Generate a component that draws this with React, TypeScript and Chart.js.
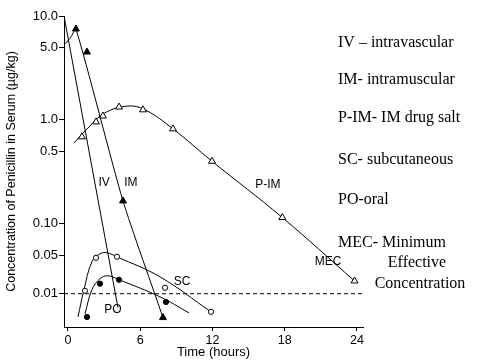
import React, { useEffect, useRef } from 'react';
import { Chart, Scale, registerables } from 'chart.js';

// ---------- data ----------
const TIME_TICKS = [0, 6, 12, 18, 24];
const CONC_TICKS = [10, 5, 1, 0.5, 0.1, 0.05, 0.01];
const CONC_TICK_LABELS = ['10.0', '5.0', '1.0', '0.5', '0.10', '0.05', '0.01'];

// fitted curves
const IV_T = [-0.33, 4.15];
const IV_C = [10, 0.0056];
const IM_T = [-0.33, 0.25, 0.66, 4.57, 7.89];
const IM_C = [5.26, 6.28, 7.5, 0.166, 0.0037];
const PIM_T = [0.5, 1.83, 3.07, 4.98, 6.4, 8.72, 11.96, 17.8, 23.8];
const PIM_C = [0.6, 0.875, 1.17, 1.36, 1.25, 0.82, 0.4, 0.115, 0.017];
const SC_T = [0.83, 1.33, 1.99, 2.66, 3.24, 4.07, 7.64, 11.88];
const SC_C = [0.0038, 0.0118, 0.0379, 0.0515, 0.0526, 0.0465, 0.0202, 0.0047];
const PO_T = [1.41, 1.99, 2.66, 3.32, 4.24, 7.64, 10.05];
const PO_C = [0.0043, 0.0118, 0.0187, 0.0211, 0.0179, 0.0088, 0.0045];
const MEC_T = [-0.33, 24.5];
const MEC_C = [0.01, 0.01];

// measured points
const IM_PT_T = [0.66, 1.58, 4.57, 7.89];
const IM_PT_C = [7.5, 4.5, 0.166, 0.0037];
const PIM_PT_T = [1.16, 2.33, 2.9, 4.24, 6.23, 8.72, 11.96, 17.8, 23.8];
const PIM_PT_C = [0.687, 0.957, 1.09, 1.33, 1.25, 0.82, 0.4, 0.115, 0.017];
const SC_PT_T = [1.41, 2.33, 4.07, 8.06, 11.88];
const SC_PT_C = [0.0113, 0.0447, 0.0466, 0.0128, 0.0047];
const PO_PT_T = [1.58, 2.66, 4.24, 8.14];
const PO_PT_C = [0.0038, 0.0152, 0.0179, 0.0071];

// in-plot labels
const CURVE_LABELS = ['IV', 'IM', 'P-IM', 'SC', 'PO', 'MEC'];
const CURVE_LABEL_T = [3.0, 5.23, 16.6, 9.47, 3.74, 21.6];
const CURVE_LABEL_C = [0.248, 0.248, 0.24, 0.0165, 0.0051, 0.038];

const LEGEND_LINES = [
  'IV – intravascular',
  'IM- intramuscular',
  'P-IM- IM drug salt',
  'SC- subcutaneous',
  'PO-oral',
  'MEC- Minimum',
  'Effective',
  'Concentration',
];

// ---------- broken log scale (compressed below 0.05) ----------
const BREAK = 0.05;
const K = 0.532;
const LB = Math.log10(BREAK);
function tf(v: number) {
  const l = Math.log10(v);
  return l >= LB ? l : LB + K * (l - LB);
}
function tfInv(t: number) {
  return t >= LB ? Math.pow(10, t) : Math.pow(10, LB + (t - LB) / K);
}

class BrokenLogScale extends Scale {
  static id = 'brokenLog';
  static defaults = {};
  parse(raw: any) {
    return raw == null ? null : +raw;
  }
  determineDataLimits() {
    const { min, max } = (this as any).getMinMax(true);
    const o: any = this.options;
    (this as any).min = o.min ?? min;
    (this as any).max = o.max ?? max;
  }
  buildTicks() {
    return CONC_TICKS.map((v) => ({ value: v }));
  }
  getPixelForValue(v: number) {
    const s: any = this;
    const t0 = tf(s.min);
    const t1 = tf(s.max);
    return this.getPixelForDecimal((tf(v) - t0) / (t1 - t0));
  }
  getValueForPixel(p: number) {
    const s: any = this;
    const t0 = tf(s.min);
    const t1 = tf(s.max);
    return tfInv(t0 + this.getDecimalForPixel(p) * (t1 - t0));
  }
  getLabelForValue(v: number) {
    return String(v);
  }
}

Chart.register(...registerables, BrokenLogScale as any);

const zip = (t: number[], c: number[]) => t.map((x, i) => ({ x, y: c[i] }));

const SANS = "'Liberation Sans', Arial, sans-serif";
const SERIF = "'Liberation Serif', 'Times New Roman', serif";

const textPlugin = {
  id: 'texts',
  afterDraw(chart: any) {
    const ctx = chart.ctx;
    const xs = chart.scales.x;
    const ys = chart.scales.y;
    ctx.save();
    ctx.fillStyle = '#000';
    ctx.font = `12px ${SANS}`;
    ctx.textAlign = 'center';
    ctx.textBaseline = 'middle';
    CURVE_LABELS.forEach((s, i) => {
      ctx.fillText(s, xs.getPixelForValue(CURVE_LABEL_T[i]), ys.getPixelForValue(CURVE_LABEL_C[i]));
    });
    ctx.font = `16px ${SERIF}`;
    ctx.textAlign = 'left';
    const yPos = [43, 80, 118, 160, 200, 243];
    for (let i = 0; i < 6; i++) ctx.fillText(LEGEND_LINES[i], 338, yPos[i]);
    ctx.textAlign = 'center';
    ctx.fillText(LEGEND_LINES[6], 417, 263);
    ctx.fillText(LEGEND_LINES[7], 420, 284);
    ctx.restore();
  },
};

export default function App() {
  const ref = useRef<HTMLCanvasElement>(null);
  useEffect(() => {
    document.body.style.margin = '0';
    const line = (data: any[], extra: any = {}) => ({
      type: 'line',
      data,
      showLine: true,
      borderColor: '#000',
      borderWidth: 1,
      pointRadius: 0,
      tension: 0.4,
      fill: false,
      ...extra,
    });
    const pts = (data: any[], style: string, filled: boolean, r: number) => ({
      type: 'scatter',
      data,
      showLine: false,
      pointStyle: style,
      pointRadius: r,
      borderColor: '#000',
      borderWidth: 1,
      backgroundColor: filled ? '#000' : '#fff',
    });
    const chart = new Chart(ref.current as HTMLCanvasElement, {
      type: 'scatter',
      data: {
        datasets: [
          pts(zip(IM_PT_T, IM_PT_C), 'triangle', true, 4),
          pts(zip(PIM_PT_T, PIM_PT_C), 'triangle', false, 4),
          pts(zip(SC_PT_T, SC_PT_C), 'circle', false, 2.6),
          pts(zip(PO_PT_T, PO_PT_C), 'circle', true, 2.6),
          line(zip(IV_T, IV_C), { tension: 0 }),
          line(zip(IM_T, IM_C), { tension: 0.2 }),
          line(zip(PIM_T, PIM_C)),
          line(zip(SC_T, SC_C)),
          line(zip(PO_T, PO_C)),
          line(zip(MEC_T, MEC_C), { tension: 0, borderDash: [4, 3] }),
        ] as any,
      },
      options: {
        animation: false,
        responsive: false,
        devicePixelRatio: 1,
        layout: { padding: { left: 0, right: 121, top: 16, bottom: 0 } },
        plugins: { legend: { display: false }, tooltip: { enabled: false } },
        scales: {
          x: {
            type: 'linear',
            min: -0.33,
            max: 24.5,
            afterBuildTicks: (s: any) => {
              s.ticks = TIME_TICKS.map((v) => ({ value: v }));
            },
            afterFit: (s: any) => {
              s.height = 33;
            },
            ticks: { font: { family: SANS, size: 12.5 }, color: '#000', padding: 2, maxRotation: 0, autoSkip: false },
            grid: { drawOnChartArea: false, tickLength: 4, color: '#000' },
            border: { color: '#000', width: 1 },
            title: { display: true, text: 'Time (hours)', font: { family: SANS, size: 13 }, color: '#000', padding: 0 },
          },
          y: {
            type: 'brokenLog',
            min: 0.0025,
            max: 10,
            afterFit: (s: any) => {
              s.width = 64;
            },
            ticks: {
              font: { family: SANS, size: 13 },
              color: '#000',
              padding: 1,
              autoSkip: false,
              callback: (v: any) => {
                const i = CONC_TICKS.indexOf(v);
                return i >= 0 ? CONC_TICK_LABELS[i] : '';
              },
            },
            grid: { drawOnChartArea: false, tickLength: 5, color: '#000' },
            border: { color: '#000', width: 1 },
            title: {
              display: true,
              text: 'Concentration of Penicillin in Serum (µg/kg)',
              font: { family: SANS, size: 12.5 },
              color: '#000',
              padding: { top: 4, bottom: 0 },
            },
          } as any,
        },
      },
      plugins: [textPlugin],
    } as any);
    return () => chart.destroy();
  }, []);
  return <canvas ref={ref} width={484} height={360} style={{ display: 'block' }} />;
}
